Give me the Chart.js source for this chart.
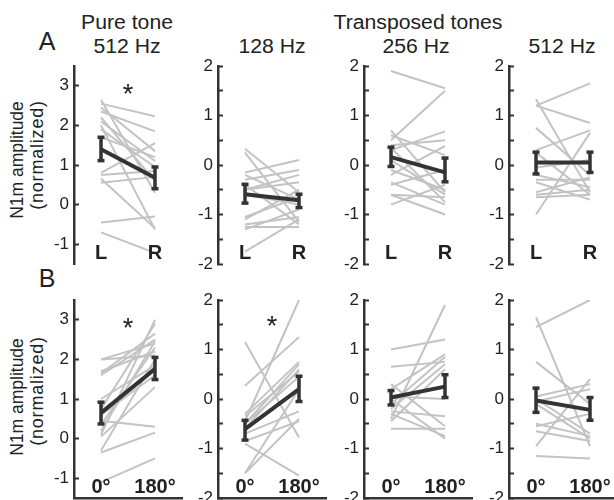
<!DOCTYPE html>
<html><head><meta charset="utf-8">
<script src="https://cdn.jsdelivr.net/npm/chart.js@4"></script>
<style>
html,body{margin:0;padding:0;background:#fff;width:614px;height:500px;overflow:hidden;}
#root{position:relative;width:614px;height:500px;font-family:"Liberation Sans",Arial,sans-serif;color:#222;}
.t{position:absolute;white-space:nowrap;transform:translate(-50%,-50%) scaleX(1.06);font-size:20px;line-height:1;}
.big{font-size:25px;transform:translate(-50%,-50%);}
.yt{position:absolute;white-space:nowrap;font-size:17.5px;line-height:1;transform:translate(-50%,-50%) rotate(-90deg);}
.yn{font-size:18px;letter-spacing:0.8px;}
canvas{position:absolute;}
</style></head>
<body><div id="root">
<div class="t" style="left:127px;top:22px">Pure tone</div>
<div class="t" style="left:127px;top:46px">512 Hz</div>
<div class="t" style="left:272px;top:46px">128 Hz</div>
<div class="t" style="left:418px;top:22px">Transposed tones</div>
<div class="t" style="left:416px;top:46px">256 Hz</div>
<div class="t" style="left:562px;top:46px">512 Hz</div>
<div class="t big" style="left:47px;top:41px">A</div>
<div class="t big" style="left:47px;top:278px">B</div>
<div class="yt" style="left:18px;top:160px">N1m amplitude</div>
<div class="yt yn" style="left:37px;top:155px">(normalized)</div>
<div class="yt" style="left:18px;top:397px">N1m amplitude</div>
<div class="yt yn" style="left:37px;top:391px">(normalized)</div>
</div>
<script>
// ---- data ----
const xPositions = [1, 3];
const labelsRowA = ['L', 'R'];
const labelsRowB = ['0°', '180°'];

const a1Left  = [2.65, 2.55, 2.45, 2.35, 2.2, 2.1, 2.0, 1.9, 1.7, 0.8, 0.75, 0.65, 0.55, -0.45, -0.7];
const a1Right = [0.3, 2.23, 1.35, 1.85, 0.6, 1.1, -0.63, 0.95, 1.2, 1.55, 0.85, -0.6, 0.7, -0.3, -1.22];
const a2Left  = [0.33, 0.25, -0.15, -0.2, -0.3, -0.4, -0.5, -0.6, -0.5, -1.05, -1.1, -1.2, -1.25, -1.3, -1.75];
const a2Right = [-0.55, -1.15, 0.1, -0.7, -0.1, -1.2, -0.2, -0.8, -0.35, -0.65, -0.5, -1.05, -1.25, -0.9, -1.1];
const a3Left  = [1.9, 0.7, 0.6, 0.5, 0.4, 0.35, 0.3, 0.1, -0.1, -0.2, -0.35, -0.4, -0.6, -0.6, -0.8];
const a3Right = [1.55, -0.55, 0.2, 1.5, 0.5, -0.75, 0.68, -0.6, -0.5, 0.38, -0.8, -0.1, -0.65, -1.0, -0.4];
const a4Left  = [1.33, 1.2, 1.2, 0.75, 0.3, 0.25, -0.05, -0.2, -0.3, -0.35, -0.55, -0.6, -0.65, -1.0];
const a4Right = [-0.55, 1.65, 0.85, -0.2, 0.7, -0.6, 0.1, -0.45, -0.3, -0.7, -0.25, -0.5, -0.6, 0.65];
const b1Left  = [2.0, 2.0, 1.7, 1.65, 1.6, 1.0, 0.75, 0.6, 0.45, 0.35, 0.2, 0.1, 0.05, -0.3, -0.35, -1.1];
const b1Right = [2.1, 2.4, 2.2, 2.65, 2.5, 1.85, 2.9, 1.6, 0.3, 2.3, 2.45, 3.0, 1.3, 2.0, 0.15, -0.5];
const b2Left  = [1.15, 0.27, -0.3, -0.35, -0.45, -0.5, -0.5, -0.6, -0.7, -0.85, -0.9, -1.5, -1.5];
const b2Right = [-0.78, 1.25, 0.75, 0.55, 2.0, 0.7, 0.45, 0.6, -0.25, -0.45, -1.55, -0.4, 0.2];
const b3Left  = [1.0, 0.65, 0.3, 0.2, 0.05, 0.0, -0.1, -0.2, -0.25, -0.3, -0.4, -0.45, -0.6];
const b3Right = [1.2, 0.75, -0.55, 0.9, 0.0, -0.8, 0.85, 0.7, -0.35, -0.75, 1.9, 0.6, -0.6];
const b4Left  = [1.65, 1.45, 0.75, 0.05, 0.0, -0.05, -0.1, -0.5, -0.55, -0.65, -0.95, -1.15];
const b4Right = [-0.95, 2.0, -0.1, 0.3, -0.7, 0.2, -0.8, -0.75, -0.3, -0.85, 0.4, -1.2];

// mean and error bars per panel (A1..A4, B1..B4)
const meanLeft   = [1.40, -0.59, 0.16, 0.05, 0.65, -0.61, 0.03, -0.03];
const meanRight  = [0.68, -0.71, -0.15, 0.05, 1.76, 0.20, 0.25, -0.22];
const errLeftLo  = [1.11, -0.77, -0.03, -0.18, 0.37, -0.83, -0.12, -0.27];
const errLeftHi  = [1.70, -0.39, 0.36, 0.26, 0.92, -0.43, 0.17, 0.22];
const errRightLo = [0.40, -0.86, -0.34, -0.15, 1.49, -0.05, 0.03, -0.43];
const errRightHi = [0.95, -0.59, 0.14, 0.26, 2.05, 0.46, 0.49, 0.03];

const yTicksWide = [-1, 0, 1, 2, 3];      // pure-tone panels
const yTicksNarrow = [-2, -1, 0, 1, 2];   // transposed-tone panels
const yMinorNarrow = [-2, -1.5, -1, -0.5, 0, 0.5, 1, 1.5, 2];
const starPanels = [0, 4, 5];
const starValues = [2.95, 2.95, 1.6];

// ---- drawing ----
const FONT = '"Liberation Sans", Arial, sans-serif';
const DARK = '#333333';
const GREY = '#c3c3c3';

const panelText = {
  id: 'panelText',
  afterDatasetsDraw(chart, args, opts) {
    const {ctx, chartArea} = chart;
    const x = chart.scales.x, y = chart.scales.y;
    ctx.save();
    ctx.fillStyle = '#222';
    ctx.font = 'bold 20px ' + FONT;
    ctx.textAlign = 'center';
    ctx.textBaseline = 'alphabetic';
    opts.labels.forEach((t, i) => {
      ctx.fillText(t, x.getPixelForValue(xPositions[i]), chartArea.bottom - 5);
    });
    if (opts.star !== null && opts.star !== undefined) {
      ctx.font = '27px ' + FONT;
      ctx.fillText('*', x.getPixelForValue(2), y.getPixelForValue(opts.star) + 15);
    }
    ctx.restore();
  }
};

const panels = [
  [a1Left, a1Right], [a2Left, a2Right], [a3Left, a3Right], [a4Left, a4Right],
  [b1Left, b1Right], [b2Left, b2Right], [b3Left, b3Right], [b4Left, b4Right]
];
const axisX = [74, 218, 364, 509];
const rowTop = [66, 300];
const PADT = 24, PADB = 24, YW = 40, PW = 108, PADR = 10, PH = 198;

panels.forEach((p, i) => {
  const row = i < 4 ? 0 : 1;
  const col = i % 4;
  const wide = col === 0;
  const cv = document.createElement('canvas');
  cv.width = YW + PW + PADR; cv.height = PADT + PH + PADB;
  cv.style.left = (axisX[col] - YW) + 'px';
  cv.style.top = (rowTop[row] - PADT) + 'px';
  document.getElementById('root').appendChild(cv);

  const datasets = [];
  const bar = (xv, lo, hi) => ({
    data: [{x: xv, y: lo}, {x: xv, y: hi}],
    borderColor: DARK, borderWidth: 3.5,
    pointStyle: 'line', pointRadius: 3.5, pointBorderWidth: 3.5,
    pointBorderColor: DARK, pointBackgroundColor: DARK
  });
  datasets.push(bar(xPositions[0], errLeftLo[i], errLeftHi[i]));
  datasets.push(bar(xPositions[1], errRightLo[i], errRightHi[i]));
  datasets.push({
    data: [{x: xPositions[0], y: meanLeft[i]}, {x: xPositions[1], y: meanRight[i]}],
    borderColor: DARK, borderWidth: 4, pointRadius: 0
  });
  p[0].forEach((v, k) => {
    datasets.push({
      data: [{x: xPositions[0], y: v}, {x: xPositions[1], y: p[1][k]}],
      borderColor: GREY, borderWidth: 2, pointRadius: 0
    });
  });

  const ticks = wide ? yTicksWide : yTicksNarrow;
  const si = starPanels.indexOf(i);
  new Chart(cv, {
    type: 'line',
    data: {datasets},
    plugins: [panelText],
    options: {
      responsive: false, animation: false, events: [],
      plugins: {
        legend: {display: false}, tooltip: {enabled: false},
        panelText: {labels: row === 0 ? labelsRowA : labelsRowB, star: si >= 0 ? starValues[si] : null}
      },
      layout: {autoPadding: false, padding: {top: PADT, bottom: PADB, left: 0, right: PADR}},
      scales: {
        x: {
          type: 'linear', min: 0, max: 4,
          grid: {display: false, drawTicks: false},
          ticks: {display: false},
          border: {display: row === 1, color: DARK, width: 2.5},
          afterFit(s) { s.height = 0; }
        },
        y: {
          type: 'linear',
          min: wide ? -1.5 : -2, max: wide ? 3.5 : 2,
          afterFit(s) { s.width = YW; },
          afterBuildTicks(s) {
            const list = wide ? yTicksWide : yMinorNarrow;
            s.ticks = list.map(v => ({value: v}));
          },
          ticks: {
            autoSkip: false,
            callback: v => (ticks.includes(v) ? String(v) : ''),
            font: {size: 17, family: FONT}, color: '#222', padding: 10
          },
          grid: {display: true, drawOnChartArea: false, drawTicks: true, tickLength: -5,
                 tickColor: DARK, tickWidth: 2, color: DARK},
          border: {display: true, color: DARK, width: 2.5}
        }
      }
    }
  });
});
</script>
</body></html>
